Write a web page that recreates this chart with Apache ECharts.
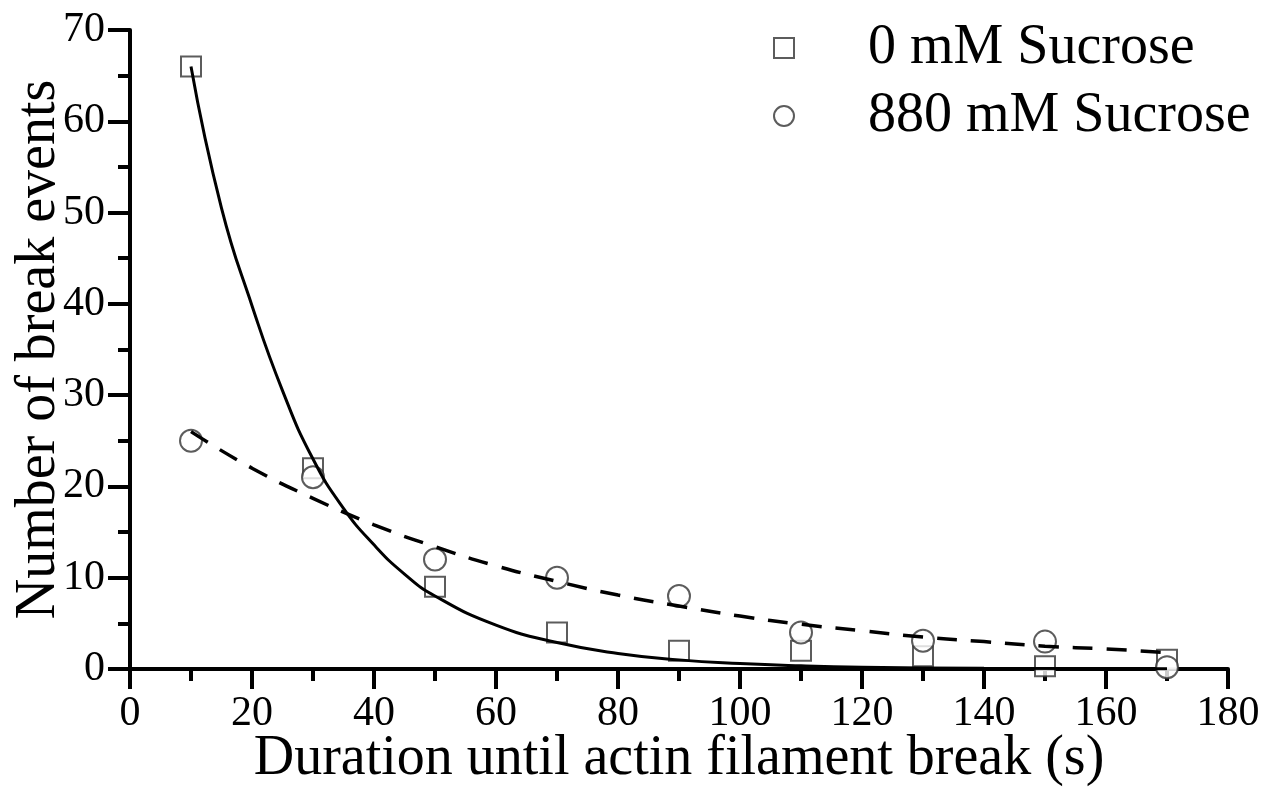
<!DOCTYPE html>
<html>
<head>
<meta charset="utf-8">
<script src="https://cdn.jsdelivr.net/npm/echarts@6/dist/echarts.min.js"></script>
<style>
  html, body { margin: 0; padding: 0; background: #fff; }
  #chart { width: 1282px; height: 787px; }
</style>
</head>
<body>
<div id="chart"></div>
<script>
  // measured points
  var durations = [10, 30, 50, 70, 90, 110, 130, 150, 170]
  var sucrose0 = [66, 22, 9, 4, 2, 2, 1.4, 0.3, 1]
  var sucrose880 = [25, 21, 12, 10, 8, 4, 3.1, 3, 0.2]

  // fit curves
  var fit0X = [10, 15, 20, 25, 30, 35, 40, 45, 50, 60, 70, 80, 90, 100, 110, 120, 140, 170]
  var fit0Y = [66, 50.5, 39.8, 30.5, 23, 17.6, 13.6, 10.4, 8, 4.8, 2.9, 1.7, 1.0, 0.6, 0.35, 0.2, 0.07, 0.02]
  var fit880X = [10, 20, 30, 40, 50, 60, 70, 80, 90, 100, 110, 120, 130, 140, 150, 160, 170]
  var fit880Y = [26, 22, 18.7, 15.8, 13.4, 11.3, 9.6, 8.1, 6.9, 5.8, 4.9, 4.2, 3.5, 3.0, 2.5, 2.2, 1.8]

  var xTicks = { min: 0, max: 180, interval: 20 }
  var yTicks = { min: 0, max: 70, interval: 10 }

  function pairs(xs, ys) {
    return xs.map(function (x, i) { return [x, ys[i]] })
  }

  var font = 'Liberation Serif'
  var chart = echarts.init(document.getElementById('chart'))
  chart.setOption({
    backgroundColor: '#fff',
    animation: false,
    grid: { left: 130, right: 54, top: 30, bottom: 118, outerBoundsMode: 'none', containLabel: false },
    legend: {
      orient: 'vertical',
      left: 768,
      top: 15,
      itemGap: 12,
      itemWidth: 20,
      itemHeight: 20,
      data: [
        { name: '0 mM Sucrose', icon: 'rect' },
        { name: '880 mM Sucrose', icon: 'circle' }
      ],
      textStyle: {
        fontFamily: font,
        fontSize: 56,
        lineHeight: 56,
        color: '#000',
        padding: [0, 0, 0, 69]
      }
    },
    xAxis: {
      type: 'value',
      min: xTicks.min,
      max: xTicks.max,
      interval: xTicks.interval,
      name: 'Duration until actin filament break (s)',
      nameLocation: 'middle',
      nameGap: 62,
      nameMoveOverlap: false,
      nameTextStyle: { fontFamily: font, fontSize: 56, color: '#000' },
      axisLine: { lineStyle: { color: '#000', width: 4 } },
      axisTick: { length: 20, lineStyle: { color: '#000', width: 4 } },
      minorTick: { show: true, splitNumber: 2, length: 12, lineStyle: { color: '#000', width: 4 } },
      axisLabel: { fontFamily: font, fontSize: 42, color: '#000', margin: 24 },
      splitLine: { show: false }
    },
    yAxis: {
      type: 'value',
      min: yTicks.min,
      max: yTicks.max,
      interval: yTicks.interval,
      name: 'Number of break events',
      nameLocation: 'middle',
      nameGap: 63,
      nameMoveOverlap: false,
      nameTextStyle: { fontFamily: font, fontSize: 56, color: '#000' },
      axisLine: { show: true, lineStyle: { color: '#000', width: 4 } },
      axisTick: { show: true, length: 22, lineStyle: { color: '#000', width: 4 } },
      minorTick: { show: true, splitNumber: 2, length: 12, lineStyle: { color: '#000', width: 4 } },
      axisLabel: { fontFamily: font, fontSize: 42, color: '#000', margin: 25 },
      splitLine: { show: false }
    },
    series: [
      {
        name: '0 mM Sucrose',
        type: 'scatter',
        symbol: 'rect',
        symbolSize: 20,
        itemStyle: { color: '#fff', borderColor: '#333', borderWidth: 2 },
        z: 2,
        data: pairs(durations, sucrose0)
      },
      {
        name: '880 mM Sucrose',
        type: 'scatter',
        symbol: 'circle',
        symbolSize: 22,
        itemStyle: { color: '#fff', borderColor: '#333', borderWidth: 2 },
        z: 3,
        data: pairs(durations, sucrose880)
      },
      {
        name: 'fit 0 mM',
        type: 'line',
        smooth: true,
        showSymbol: false,
        lineStyle: { color: '#000', width: 3 },
        z: 4,
        data: pairs(fit0X, fit0Y)
      },
      {
        name: 'fit 880 mM',
        type: 'line',
        smooth: true,
        showSymbol: false,
        lineStyle: { color: '#000', width: 3.5, type: [20, 14] },
        z: 4,
        data: pairs(fit880X, fit880Y)
      }
    ]
  })
</script>
</body>
</html>
